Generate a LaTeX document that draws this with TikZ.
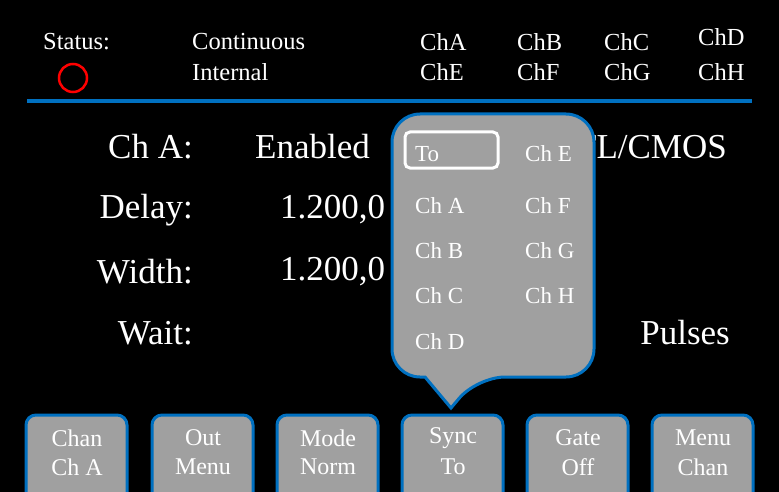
\documentclass[tikz,border=0pt]{standalone}
\usepackage{fontspec}
\setmainfont{Liberation Serif}
\definecolor{bl}{RGB}{0,112,192}
\definecolor{gr}{RGB}{160,160,160}
\begin{document}
\begin{tikzpicture}[x=1pt,y=-1pt,
  hdr/.style={text=white,font=\fontsize{24.5}{26}\selectfont,anchor=west,inner sep=0},
  big/.style={text=white,font=\fontsize{35}{38}\selectfont,inner sep=0},
  itm/.style={text=white,font=\fontsize{23}{25}\selectfont,anchor=west,inner sep=0},
  btn/.style={fill=gr,draw=bl,line width=3pt,rounded corners=10pt},
  btxt/.style={text=white,font=\fontsize{24}{26}\selectfont,align=center,inner sep=0}]
\fill[black] (0,0) rectangle (779,492);
\useasboundingbox (0,0) rectangle (779,492);
\node[hdr] (st) at (43,42) {Status:};
\draw[red,line width=2.5pt] (73,78) circle (14);
\node[hdr] (c1) at (192,42) {Continuous};
\node[hdr] (c2) at (192,72) {Internal};
\node[hdr] at (420,42) {ChA}; \node[hdr] at (420,72) {ChE};
\node[hdr] at (517,42) {ChB}; \node[hdr] at (517,72) {ChF};
\node[hdr] at (604,42) {ChC}; \node[hdr] at (604,72) {ChG};
\node[hdr] at (698,37) {ChD}; \node[hdr] at (698,72) {ChH};
\draw[bl,line width=4pt] (27,101) -- (752,101);
\node[big,anchor=east] at (193,147) {Ch A:};
\node[big,anchor=east] at (193,210) {Delay:};
\node[big,anchor=east] at (193,272) {Width:};
\node[big,anchor=east] at (193,333) {Wait:};
\node[big,anchor=west] at (255,147) {Enabled};
\node[big,anchor=west] at (280,210) {1.200,0};
\node[big,anchor=west] at (280,272) {1.200,0};
\node[big,anchor=east] at (727,147) {TTL/CMOS};
\node[big,anchor=east] at (730,333) {Pulses};
% popup
\draw[fill=gr,draw=bl,line width=3pt,rounded corners=28pt]
 (392,114) -- (594,114) -- (594,377) -- (477,377) [sharp corners]-- (451,408) -- (425,377) [rounded corners=28pt]-- (392,377) -- cycle;
\draw[white,line width=3pt,rounded corners=5pt] (405,132) rectangle (498,168);
\node[itm] at (415,154) {To};
\node[itm] at (415,206) {Ch A};
\node[itm] at (415,251) {Ch B};
\node[itm] at (415,296) {Ch C};
\node[itm] at (415,342) {Ch D};
\node[itm] at (525,154) {Ch E};
\node[itm] at (525,206) {Ch F};
\node[itm] at (525,251) {Ch G};
\node[itm] at (525,296) {Ch H};
% buttons
\foreach \x/\a/\b in {26/Chan/Ch A,152/Out/Menu,277/Mode/Norm,402/Sync/To,527/Gate/Off,652/Menu/Chan}{
  \draw[btn] (\x,500) -- (\x,415) -- (\x+101,415) -- (\x+101,500);
  \node[btxt] at (\x+51,438) {\a};
  \node[btxt] at (\x+51,467) {\b};
}
\end{tikzpicture}
\end{document}
